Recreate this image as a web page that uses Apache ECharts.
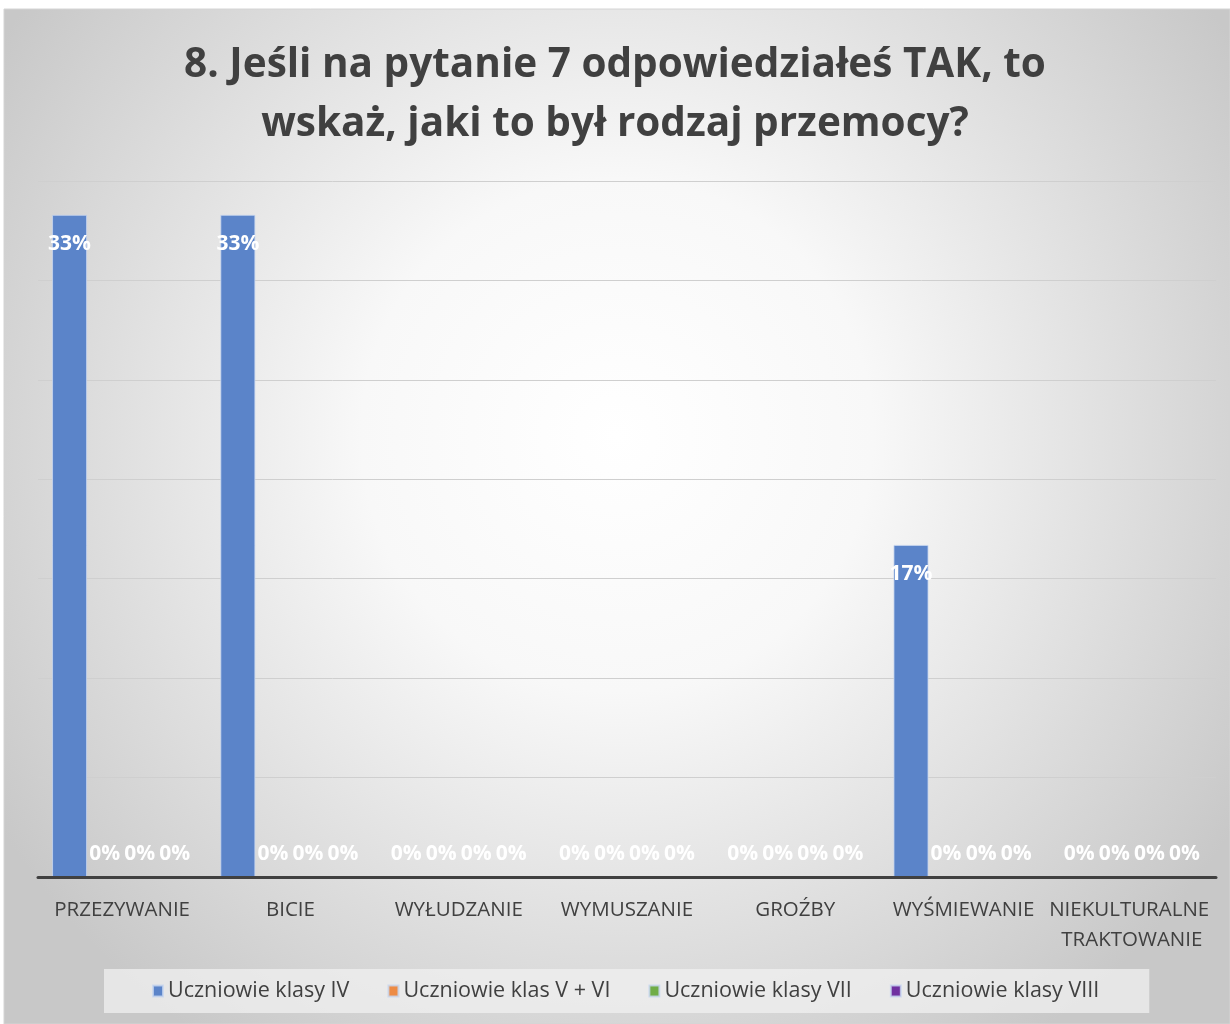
<!DOCTYPE html>
<html><head><meta charset="utf-8">
<script src="https://cdn.jsdelivr.net/npm/echarts@6/dist/echarts.min.js"></script>
<style>html,body{margin:0;padding:0;background:#fff}#c{width:1230px;height:1024px}</style>
</head><body><div id="c"></div>
<script>
const titleText = '8. Jeśli na pytanie 7 odpowiedziałeś TAK, to\nwskaż, jaki to był rodzaj przemocy?';
const categories = ['PRZEZYWANIE','BICIE','WYŁUDZANIE','WYMUSZANIE','GROŹBY','WYŚMIEWANIE','NIEKULTURALNE TRAKTOWANIE'];
const seriesNames = ['Uczniowie klasy IV','Uczniowie klas V + VI','Uczniowie klasy VII','Uczniowie klasy VIII'];
const klasaIV = [0.333, 0.333, 0, 0, 0, 0.167, 0];
const klasaVVI = [0, 0, 0, 0, 0, 0, 0];
const klasaVII = [0, 0, 0, 0, 0, 0, 0];
const klasaVIII = [0, 0, 0, 0, 0, 0, 0];
const seriesValues = [klasaIV, klasaVVI, klasaVII, klasaVIII];
const colors = ['#5b84c9','#ed8b45','#70ad47','#7030a0'];

const chart = echarts.init(document.getElementById('c'));
const fontFam = '"Open Sans", "DejaVu Sans", sans-serif';

function makeData(vals){
  return vals.map(v => ({
    value: v,
    itemStyle: v === 0 ? {borderWidth: 0} : {},
    label: v === 0
      ? {position: 'insideBottom', distance: 12}
      : {position: 'insideTop', distance: 19}
  }));
}

chart.setOption({
  animation: false,
  color: colors,
  graphic: [{
    type: 'rect', z: -10, silent: true,
    shape: {x: 4, y: 9, width: 1226, height: 1015},
    style: {
      fill: new echarts.graphic.RadialGradient(0.5, 0.42, 0.72, [
        {offset: 0, color: '#ffffff'},
        {offset: 0.35, color: '#f8f8f8'},
        {offset: 1, color: '#c8c8c8'}
      ]),
      stroke: '#d4d4d4', lineWidth: 1
    }
  }],
  title: {
    text: titleText,
    left: 'center', top: 31,
    textStyle: {fontFamily: fontFam, fontWeight: 'bold', fontSize: 40.5, color: '#404040', lineHeight: 59}
  },
  legend: {
    bottom: 11, left: 104,
    itemWidth: 10, itemHeight: 11, itemGap: 38,
    padding: [11, 50, 11, 48],
    backgroundColor: 'rgba(240,240,240,0.75)',
    icon: 'rect',
    textStyle: {fontFamily: fontFam, fontSize: 21.5, color: '#404040', padding: [0,0,0,0]},
    data: seriesNames
  },
  grid: {left: 38, right: 14, top: 181, bottom: 147},
  xAxis: {
    type: 'category', data: categories,
    z: 10,
    axisLine: {lineStyle: {color: '#404040', width: 3}},
    axisTick: {show: false},
    axisLabel: {fontFamily: fontFam, fontSize: 20.5, color: '#404040', margin: 18, width: 168, overflow: 'break', lineHeight: 30, interval: 0}
  },
  yAxis: {
    type: 'value', min: 0, max: 0.35, interval: 0.05,
    axisLabel: {show: false}, axisLine: {show: false}, axisTick: {show: false},
    splitLine: {lineStyle: {color: '#cfcfcf', width: 1}}
  },
  series: seriesValues.map((vals, i) => ({
    name: seriesNames[i], type: 'bar',
    data: makeData(vals),
    barGap: '0%', barCategoryGap: '16.7%',
    itemStyle: {color: colors[i], borderColor: 'rgba(200,215,240,0.8)', borderWidth: 1},
    label: {
      show: true, color: '#ffffff', fontFamily: fontFam, fontWeight: 'bold', fontSize: 21,
      formatter: p => Math.round(p.value * 100) + '%'
    }
  }))
});
</script></body></html>
